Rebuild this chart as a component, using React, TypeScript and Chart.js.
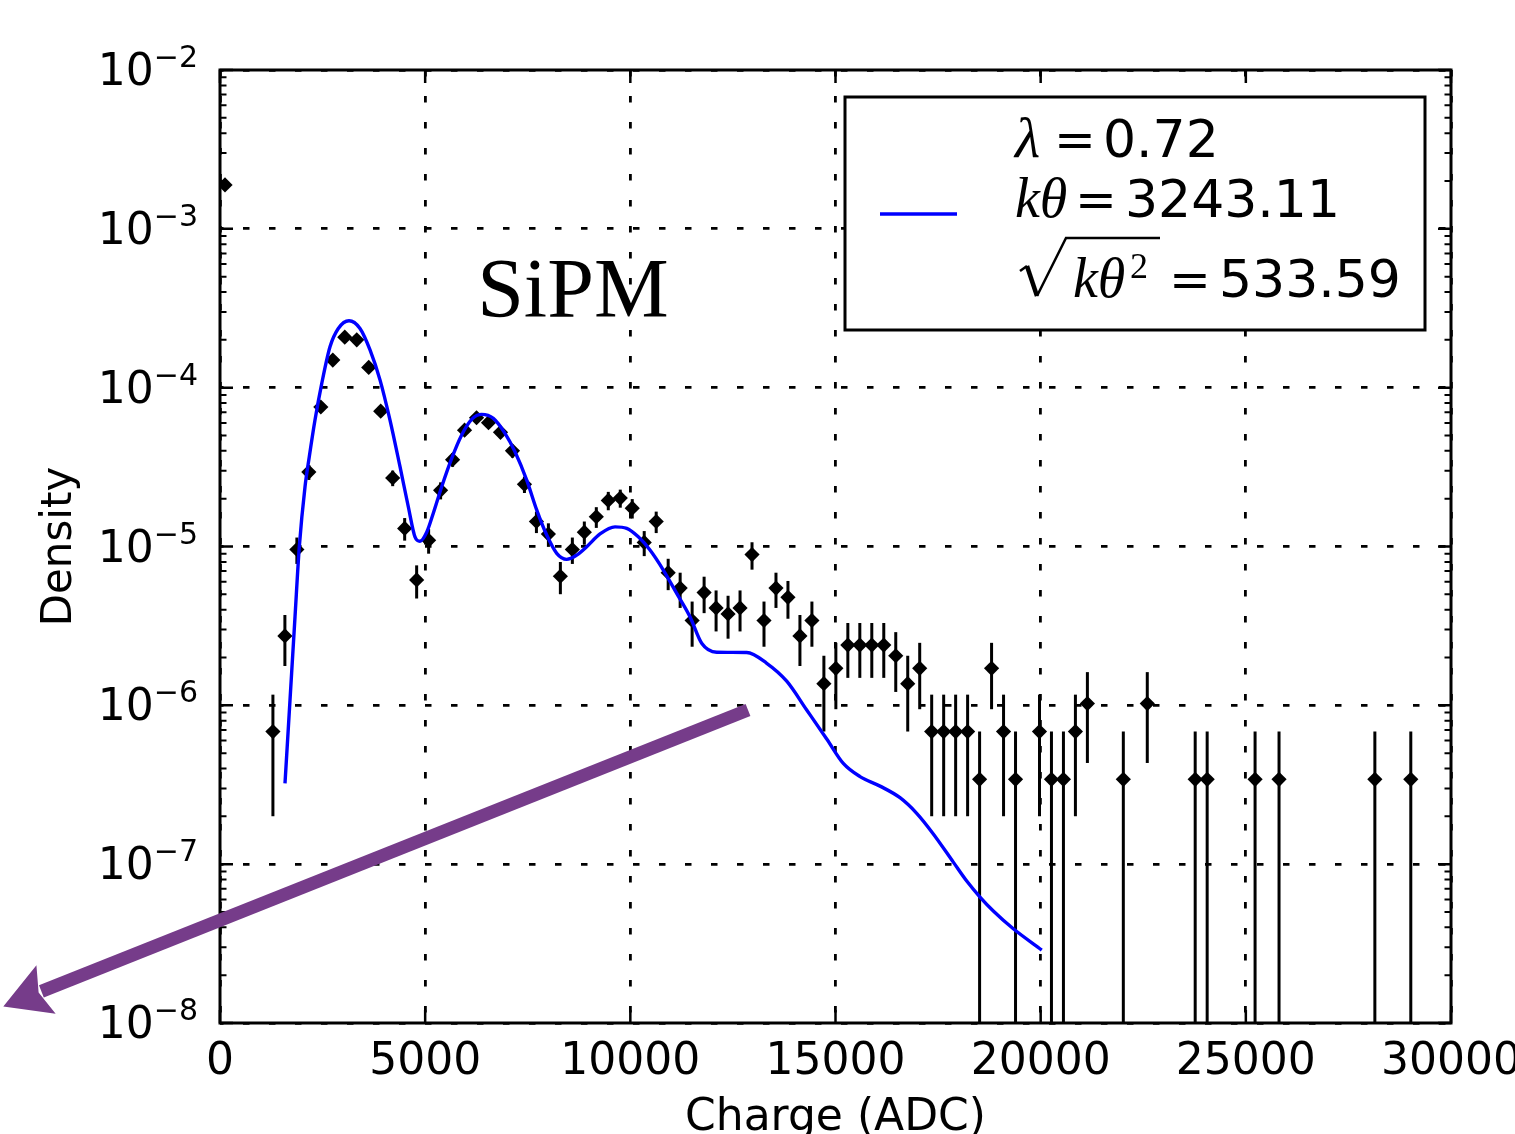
import React, { useEffect, useRef } from "react";
import { Chart, registerables } from "chart.js";

Chart.register(...registerables);

// ---------------- data ----------------
const X_TICKS = [0, 5000, 10000, 15000, 20000, 25000, 30000];
const Y_TICK_EXPONENTS = [-8, -7, -6, -5, -4, -3, -2];
const X_LABEL = "Charge (ADC)";
const Y_LABEL = "Density";
const TITLE = "SiPM";

// histogram: 100 bins, density of one entry per bin
const BIN_START = -24;
const BIN_WIDTH = 291.9;
const DENSITY_PER_COUNT = 3.42e-7;

const BIN_INDEX = [
  0, 4, 5, 6, 7, 8, 9, 10, 11, 12, 13, 14, 15, 16, 17, 18, 19, 20, 21, 22, 23, 24, 25, 26, 27, 28, 29,
  30, 31, 32, 33, 34, 35, 36, 37, 38, 39, 40, 41, 42, 43, 44, 45, 46, 47, 48, 49, 50, 51, 52, 53, 54,
  55, 56, 57, 58, 59, 60, 61, 62, 63, 64, 65, 66, 68, 69, 70, 71, 72, 75, 77, 81, 82, 86, 88, 96, 99,
];
const BIN_COUNTS = [
  5530, 2, 8, 28, 86, 221, 436, 608, 585, 392, 208, 79, 38, 18, 32, 66, 103, 158, 189, 176, 153, 117, 72,
  42, 35, 19, 28, 36, 45, 57, 59, 51, 31, 42, 20, 16, 10, 15, 12, 11, 12, 26, 10, 16, 14, 8, 10, 4, 5, 7,
  7, 7, 7, 6, 4, 5, 2, 2, 2, 2, 1, 5, 2, 1, 2, 1, 1, 2, 3, 1, 3, 1, 1, 1, 1, 1, 1,
];

// fitted compound model
const FIT_X = [
  1584, 1706, 1828, 1933, 2072, 2176, 2315, 2479, 2681, 2883, 3144, 3412, 3656, 3899, 4143, 4387, 4589,
  4752, 4874, 5037, 5198, 5403, 5647, 5890, 6134, 6378, 6661, 6946, 7189, 7475, 7718, 7962, 8206, 8449,
  8693, 8937, 9261, 9627, 9912, 10194, 10479, 10804, 11130, 11454, 11739, 12105, 12836, 13324, 13811,
  14298, 14786, 15190, 15597, 16085, 16572, 16979, 17384, 17871, 18198, 18522, 18846, 19333, 20026,
];
const FIT_Y = [
  3.23e-7, 1.08e-6, 3.61e-6, 9.97e-6, 2.38e-5, 3.67e-5, 6.25e-5, 1.06e-4, 1.81e-4, 2.36e-4, 2.64e-4,
  2.36e-4, 1.73e-4, 1.12e-4, 6.25e-5, 3.18e-5, 1.78e-5, 1.15e-5, 1.08e-5, 1.23e-5, 1.62e-5, 2.38e-5,
  3.59e-5, 5.04e-5, 6.32e-5, 6.79e-5, 6.41e-5, 5.16e-5, 3.95e-5, 2.62e-5, 1.7e-5, 1.18e-5, 9.06e-6,
  8.3e-6, 8.83e-6, 9.97e-6, 1.2e-5, 1.33e-5, 1.3e-5, 1.15e-5, 9.5e-6, 7.11e-6, 5.07e-6, 3.61e-6,
  2.46e-6, 2.16e-6, 2.15e-6, 1.84e-6, 1.42e-6, 9.35e-7, 6.14e-7, 4.31e-7, 3.56e-7, 3.1e-7, 2.62e-7,
  2.09e-7, 1.55e-7, 1.03e-7, 7.83e-8, 6.21e-8, 5.07e-8, 3.92e-8, 2.88e-8,
];

const LEGEND_LAMBDA = "0.72";
const LEGEND_KTHETA = "3243.11";
const LEGEND_SQRT = "533.59";

const TITLE_POS = { x: 8600, y: 2.8e-4 };
const ARROW_FROM = { x: 12868, y: 9.35e-7 };
const ARROW_TO = { x: -5281, y: 1.27e-8 };

// ---------------- styles ----------------
const SANS = '"DejaVu Sans", sans-serif';
const SERIF = '"Liberation Serif", serif';
const ARROW_COLOR = "rgb(118, 60, 138)";

const decorPlugin = {
  id: "decor",
  beforeDatasetsDraw(chart: any) {
    const { ctx, chartArea: a, scales } = chart;
    const x = scales.x;
    const y = scales.y;
    ctx.save();
    ctx.beginPath();
    ctx.rect(a.left, a.top, a.right - a.left, a.bottom - a.top);
    ctx.clip();
    // title text
    ctx.fillStyle = "#000";
    ctx.font = `84px ${SERIF}`;
    ctx.textAlign = "center";
    ctx.textBaseline = "alphabetic";
    ctx.fillText(TITLE, x.getPixelForValue(TITLE_POS.x), y.getPixelForValue(TITLE_POS.y));
    // error bars
    ctx.strokeStyle = "#000";
    ctx.lineWidth = 3;
    ctx.lineCap = "butt";
    BIN_INDEX.forEach((b, i) => {
      const n = BIN_COUNTS[i];
      const v = n * DENSITY_PER_COUNT;
      const err = Math.sqrt(n) * DENSITY_PER_COUNT;
      const cx = x.getPixelForValue(BIN_START + (b + 0.5) * BIN_WIDTH);
      const hi = y.getPixelForValue(v + err);
      const lowVal = v - err;
      const lo = lowVal > v * 1e-6 ? Math.min(y.getPixelForValue(lowVal), a.bottom + 10) : a.bottom + 10;
      ctx.beginPath();
      ctx.moveTo(cx, lo);
      ctx.lineTo(cx, hi);
      ctx.stroke();
    });
    ctx.restore();
  },
  afterDraw(chart: any) {
    const { ctx, chartArea: a, scales } = chart;
    const x = scales.x;
    const y = scales.y;
    ctx.save();
    // frame
    ctx.strokeStyle = "#000";
    ctx.lineWidth = 3;
    ctx.strokeRect(a.left, a.top, a.right - a.left, a.bottom - a.top);
    // major ticks
    ctx.lineWidth = 2.5;
    ctx.beginPath();
    X_TICKS.forEach((t) => {
      const px = x.getPixelForValue(t);
      ctx.moveTo(px, a.bottom);
      ctx.lineTo(px, a.bottom - 13);
      ctx.moveTo(px, a.top);
      ctx.lineTo(px, a.top + 13);
    });
    Y_TICK_EXPONENTS.forEach((e) => {
      const py = y.getPixelForValue(Math.pow(10, e));
      ctx.moveTo(a.left, py);
      ctx.lineTo(a.left + 13, py);
      ctx.moveTo(a.right, py);
      ctx.lineTo(a.right - 13, py);
    });
    ctx.stroke();
    // minor ticks
    ctx.lineWidth = 2;
    ctx.beginPath();
    Y_TICK_EXPONENTS.slice(0, -1).forEach((e) => {
      for (let m = 2; m <= 9; m++) {
        const py = y.getPixelForValue(m * Math.pow(10, e));
        ctx.moveTo(a.left, py);
        ctx.lineTo(a.left + 6.5, py);
        ctx.moveTo(a.right, py);
        ctx.lineTo(a.right - 6.5, py);
      }
    });
    ctx.stroke();

    // tick labels
    ctx.fillStyle = "#000";
    ctx.textBaseline = "alphabetic";
    ctx.font = `44px ${SANS}`;
    ctx.textAlign = "center";
    X_TICKS.forEach((t) => {
      ctx.fillText(String(t), x.getPixelForValue(t), a.bottom + 51);
    });
    Y_TICK_EXPONENTS.forEach((e) => {
      const py = y.getPixelForValue(Math.pow(10, e));
      const exp = "\u2212" + Math.abs(e);
      const right = a.left - 22;
      ctx.font = `30px ${SANS}`;
      const wExp = ctx.measureText(exp).width;
      ctx.textAlign = "right";
      ctx.fillText(exp, right, py - 3);
      ctx.font = `44px ${SANS}`;
      ctx.fillText("10", right - wExp, py + 15);
    });

    // axis titles
    ctx.font = `44px ${SANS}`;
    ctx.textAlign = "center";
    ctx.fillText(X_LABEL, (a.left + a.right) / 2, a.bottom + 107);
    ctx.save();
    ctx.translate(a.left - 149, (a.top + a.bottom) / 2);
    ctx.rotate(-Math.PI / 2);
    ctx.font = `42px ${SANS}`;
    ctx.fillText(Y_LABEL, 0, 0);
    ctx.restore();

    // legend
    const L = { x: a.right - 606, y: a.top + 27, w: 580, h: 233 };
    ctx.fillStyle = "#fff";
    ctx.fillRect(L.x, L.y, L.w, L.h);
    ctx.strokeStyle = "#000";
    ctx.lineWidth = 3;
    ctx.strokeRect(L.x, L.y, L.w, L.h);
    ctx.strokeStyle = "#0000ff";
    ctx.lineWidth = 3.4;
    ctx.beginPath();
    ctx.moveTo(L.x + 35, L.y + 117);
    ctx.lineTo(L.x + 112, L.y + 117);
    ctx.stroke();

    ctx.fillStyle = "#000";
    ctx.textAlign = "left";
    const EQ = `50px "DejaVu Serif", serif`;
    // line 1
    ctx.font = `italic 58px ${SERIF}`;
    ctx.fillText("\u03bb", L.x + 170, L.y + 60);
    ctx.font = EQ;
    ctx.fillText("=", L.x + 209, L.y + 60);
    ctx.font = `52px ${SANS}`;
    ctx.fillText(LEGEND_LAMBDA, L.x + 258, L.y + 60);
    // line 2
    ctx.font = `italic 56px ${SERIF}`;
    ctx.fillText("k\u03b8", L.x + 170, L.y + 120);
    ctx.font = EQ;
    ctx.fillText("=", L.x + 230, L.y + 120);
    ctx.font = `52px ${SANS}`;
    ctx.fillText(LEGEND_KTHETA, L.x + 280, L.y + 120);
    // line 3: radical sign with vinculum
    ctx.strokeStyle = "#000";
    ctx.lineJoin = "miter";
    ctx.lineWidth = 2.5;
    ctx.beginPath();
    ctx.moveTo(L.x + 175, L.y + 174);
    ctx.lineTo(L.x + 182, L.y + 169);
    ctx.stroke();
    ctx.lineWidth = 4.5;
    ctx.beginPath();
    ctx.moveTo(L.x + 182, L.y + 169);
    ctx.lineTo(L.x + 192, L.y + 199);
    ctx.stroke();
    ctx.lineWidth = 2.5;
    ctx.beginPath();
    ctx.moveTo(L.x + 192, L.y + 199);
    ctx.lineTo(L.x + 221, L.y + 141);
    ctx.lineTo(L.x + 315, L.y + 141);
    ctx.stroke();
    ctx.font = `italic 56px ${SERIF}`;
    ctx.fillText("k\u03b8", L.x + 228, L.y + 200);
    ctx.font = `36px ${SERIF}`;
    ctx.fillText("2", L.x + 285, L.y + 181);
    ctx.font = EQ;
    ctx.fillText("=", L.x + 324, L.y + 200);
    ctx.font = `52px ${SANS}`;
    ctx.fillText(LEGEND_SQRT, L.x + 374, L.y + 200);

    // arrow annotation
    const sx = x.getPixelForValue(ARROW_FROM.x);
    const sy = y.getPixelForValue(ARROW_FROM.y);
    const tx = x.getPixelForValue(ARROW_TO.x);
    const ty = y.getPixelForValue(ARROW_TO.y);
    const len = Math.hypot(tx - sx, ty - sy);
    const ux = (tx - sx) / len;
    const uy = (ty - sy) / len;
    const headLen = 46;
    const headHalf = 26;
    const bx = tx - ux * headLen;
    const by = ty - uy * headLen;
    ctx.strokeStyle = ARROW_COLOR;
    ctx.fillStyle = ARROW_COLOR;
    ctx.lineWidth = 13;
    ctx.lineCap = "butt";
    ctx.beginPath();
    ctx.moveTo(sx, sy);
    ctx.lineTo(bx + ux * 5, by + uy * 5);
    ctx.stroke();
    ctx.beginPath();
    ctx.moveTo(tx, ty);
    ctx.lineTo(bx - uy * headHalf, by + ux * headHalf);
    ctx.lineTo(bx + ux * 8, by + uy * 8);
    ctx.lineTo(bx + uy * headHalf, by - ux * headHalf);
    ctx.closePath();
    ctx.fill();

    ctx.restore();
  },
};

export default function App() {
  const canvasRef = useRef<HTMLCanvasElement | null>(null);

  useEffect(() => {
    const canvas = canvasRef.current;
    if (!canvas) return;
    const points = BIN_INDEX.map((b, i) => ({
      x: BIN_START + (b + 0.5) * BIN_WIDTH,
      y: BIN_COUNTS[i] * DENSITY_PER_COUNT,
    }));
    const fit = FIT_X.map((xv, i) => ({ x: xv, y: FIT_Y[i] }));

    const chart = new Chart(canvas, {
      type: "line",
      data: {
        datasets: [
          {
            label: "fit",
            data: fit,
            borderColor: "#0000ff",
            borderWidth: 3.4,
            pointRadius: 0,
            fill: false,
            cubicInterpolationMode: "monotone",
            order: 0,
          },
          {
            label: "data",
            data: points,
            showLine: false,
            pointStyle: "rectRot",
            pointRadius: 7.6,
            pointBackgroundColor: "#000",
            pointBorderColor: "#000",
            pointBorderWidth: 0,
            order: 1,
          },
        ],
      },
      options: {
        responsive: false,
        animation: false,
        devicePixelRatio: 1,
        events: [],
        layout: { padding: { left: 220, right: 64, top: 70, bottom: 111 } },
        plugins: {
          legend: { display: false },
          tooltip: { enabled: false },
          title: { display: false },
        },
        scales: {
          x: {
            type: "linear",
            min: 0,
            max: 30000,
            afterBuildTicks: (s: any) => {
              s.ticks = X_TICKS.map((v) => ({ value: v }));
            },
            afterFit: (s: any) => {
              s.height = 0;
            },
            ticks: { display: false },
            grid: { color: "#000", lineWidth: 2.8, drawTicks: false },
            border: { display: false, dash: [6.5, 19.5], dashOffset: 0 },
          },
          y: {
            type: "logarithmic",
            min: 1e-8,
            max: 1e-2,
            afterBuildTicks: (s: any) => {
              s.ticks = Y_TICK_EXPONENTS.map((e) => ({ value: Math.pow(10, e) }));
            },
            afterFit: (s: any) => {
              s.width = 0;
            },
            ticks: { display: false },
            grid: { color: "#000", lineWidth: 2.8, drawTicks: false },
            border: { display: false, dash: [6.5, 19.5], dashOffset: 3 },
          },
        },
      },
      plugins: [decorPlugin],
    } as any);

    return () => chart.destroy();
  }, []);

  return (
    <canvas
      ref={canvasRef}
      width={1515}
      height={1134}
      style={{ position: "absolute", left: 0, top: 0, width: 1515, height: 1134, display: "block" }}
    />
  );
}
